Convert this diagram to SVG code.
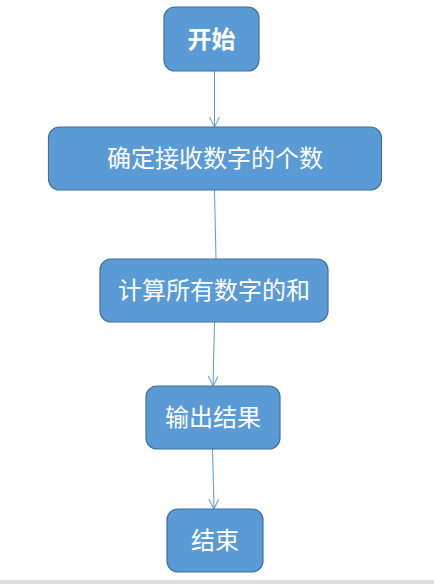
<svg xmlns="http://www.w3.org/2000/svg" width="434" height="584" viewBox="0 0 434 584">
<defs>
<style>
.box{fill:#5B9BD5;stroke:#41719C;stroke-width:1.2}
.t{fill:#ffffff;font-family:"Noto Sans CJK SC","Microsoft YaHei",sans-serif;font-size:24px;text-anchor:middle}
.c{stroke:#5B9BD5;stroke-width:1;fill:none}
</style>
<marker id="ah" markerWidth="12" markerHeight="12" refX="10" refY="5" orient="auto" markerUnits="userSpaceOnUse">
<path d="M0,0 L10,5 L0,10" fill="none" stroke="#5B9BD5" stroke-width="1"/>
</marker>
</defs>
<rect x="0" y="0" width="434" height="584" fill="#ffffff"/>
<rect x="0" y="580" width="434" height="4" fill="#dedede"/>
<g id="connectors">
<line class="c" x1="214.5" y1="71" x2="214.5" y2="127" marker-end="url(#ah)"/>
<line class="c" x1="214.5" y1="190" x2="216" y2="259"/>
<line class="c" x1="214.5" y1="322" x2="213" y2="386" marker-end="url(#ah)"/>
<line class="c" x1="212.5" y1="449" x2="214" y2="509" marker-end="url(#ah)"/>
</g>
<g id="start">
<rect class="box" x="164" y="7" width="95" height="64" rx="11"/>
<text class="t" x="211.5" y="48" font-weight="bold">开始</text>
</g>
<g id="count">
<rect class="box" x="48.5" y="127" width="333" height="63" rx="11"/>
<text class="t" x="215" y="167">确定接收数字的个数</text>
</g>
<g id="sum">
<rect class="box" x="100" y="259" width="228" height="63" rx="11"/>
<text class="t" x="214" y="299">计算所有数字的和</text>
</g>
<g id="output">
<rect class="box" x="146" y="386" width="134" height="63" rx="11"/>
<text class="t" x="213" y="426">输出结果</text>
</g>
<g id="end">
<rect class="box" x="167" y="509" width="96" height="63" rx="11"/>
<text class="t" x="215" y="549">结束</text>
</g>
</svg>
